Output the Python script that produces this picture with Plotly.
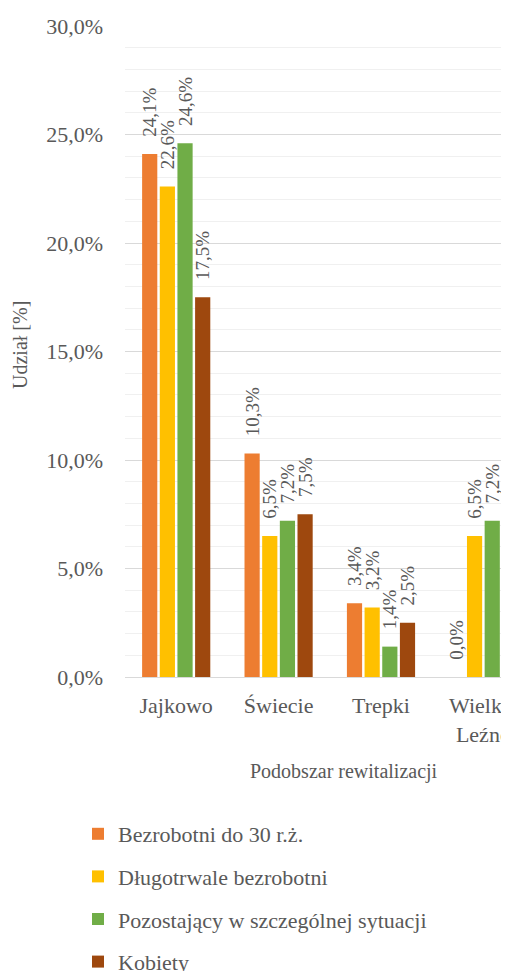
import plotly.graph_objects as go

categories = ["Jajkowo", "Świecie", "Trepki", "Wielkie<br>Leźno"]
series_names = ["Bezrobotni do 30 r.ż.", "Długotrwale bezrobotni",
                "Pozostający w szczególnej sytuacji", "Kobiety"]
bezrobotni_30 = [24.1, 10.3, 3.4, 0.0]
dlugotrwale = [22.6, 6.5, 3.2, 6.5]
pozostajacy = [24.6, 7.2, 1.4, 7.2]
kobiety = [17.5, 7.5, 2.5, 7.5]
y_ticks = [0, 5, 10, 15, 20, 25, 30]
y_tick_labels = ["0,0%", "5,0%", "10,0%", "15,0%", "20,0%", "25,0%", "30,0%"]

colors = ["#ED7D31", "#FFC000", "#70AD47", "#9E480E"]
FONT = "Liberation Serif, Times New Roman, serif"
GREY = "#595959"

# page body has an 8px default margin -> figure is laid out in page coords - 8
W, H = 501, 963
L, T = 117, 18
PLOT_H = 651
B = H - T - PLOT_H
PLOT_W = W - L

fig = go.Figure()
for i, (name, vals) in enumerate(zip(series_names,
                                     [bezrobotni_30, dlugotrwale, pozostajacy, kobiety])):
    fig.add_trace(go.Bar(
        x=categories, y=vals, name=name,
        marker=dict(color=colors[i], line=dict(width=0)),
        texttemplate="\u00a0\u00a0\u00a0%{y:.1f}%", textposition="outside", textangle=-90,
        constraintext="none", cliponaxis=False,
        textfont=dict(family=FONT, size=19, color=GREY),
        legendgroup=f"g{i}",
    ))

fig.update_layout(
    width=W, height=H,
    margin=dict(l=L, r=0, t=T, b=B, autoexpand=False),
    paper_bgcolor="white", plot_bgcolor="white",
    separators=", ",
    barmode="group", bargap=0.31, bargroupgap=0.14,
    font=dict(family=FONT, color=GREY, size=18),
    xaxis=dict(
        range=[-0.5, 3.25], showline=True, linecolor="#d9d9d9", linewidth=1,
        tickfont=dict(family=FONT, size=22, color=GREY), ticks="",
        ticklabelstandoff=9, automargin=False,
    ),
    yaxis=dict(
        range=[0, 30], tickmode="array", tickvals=y_ticks, ticktext=y_tick_labels,
        tickfont=dict(family=FONT, size=22, color=GREY),
        showgrid=True, gridcolor="#d9d9d9", gridwidth=1,
        minor=dict(dtick=1, showgrid=True, gridcolor="#f0f0f0", gridwidth=1),
        zeroline=False, ticks="", ticklabelstandoff=21, automargin=False,
    ),
    legend=dict(
        xref="container", yref="container", x=70 / W, y=1 - 805 / H,
        xanchor="left", yanchor="top", orientation="v",
        font=dict(family=FONT, size=22, color=GREY),
        tracegroupgap=11, itemwidth=30, bgcolor="rgba(0,0,0,0)",
    ),
    showlegend=True,
    annotations=[
        dict(text="Podobszar rewitalizacji", xref="paper", yref="paper",
             x=(336 - L) / PLOT_W, y=-(763 - (T + PLOT_H)) / PLOT_H,
             xanchor="center", yanchor="middle",
             showarrow=False, font=dict(family=FONT, size=20, color=GREY)),
        dict(text="Udział [%]", xref="paper", yref="paper", textangle=-90,
             x=(12 - L) / PLOT_W, y=(T + PLOT_H - 337) / PLOT_H,
             xanchor="center", yanchor="middle",
             showarrow=False, font=dict(family=FONT, size=20, color=GREY)),
    ],
)

fig.write_html("out.html")
